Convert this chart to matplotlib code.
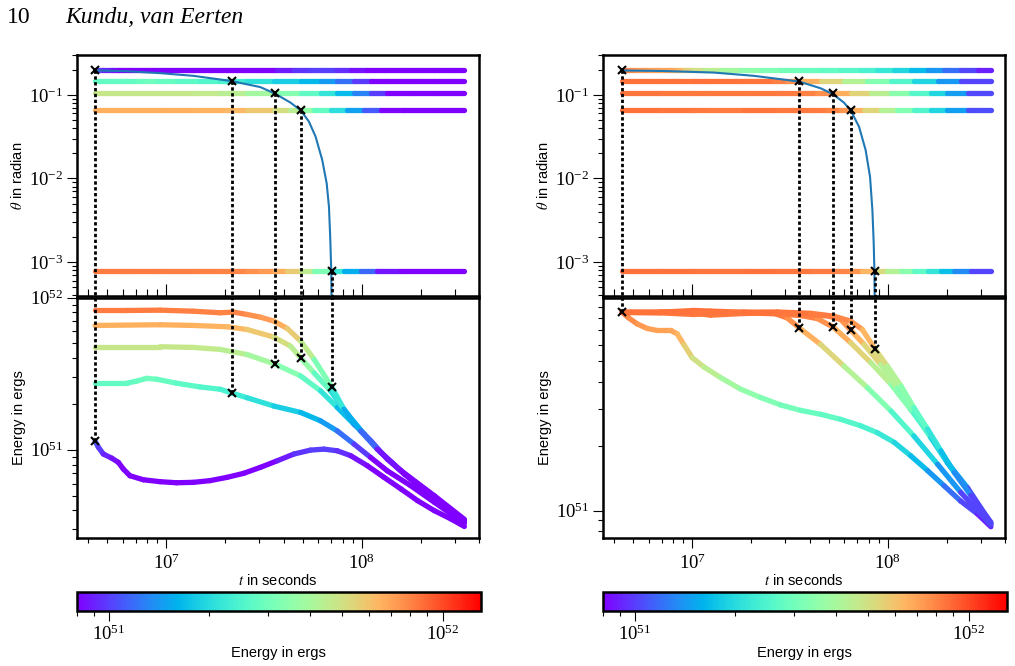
import numpy as np
import matplotlib
matplotlib.use("Agg")
import matplotlib.pyplot as plt
from matplotlib.collections import LineCollection
from matplotlib.colors import LogNorm
from matplotlib.cm import ScalarMappable

plt.rcParams["font.family"] = ["Liberation Serif", "DejaVu Serif"]
plt.rcParams["mathtext.fontset"] = "stix"

# opening angles of the five runs (radian)
thetas = [0.196, 0.146, 0.104, 0.0655, 0.00078]

# ---- left column: energy vs time per run ----
left_t_0 = [4.33e6, 4.50e6, 4.77e6, 5.27e6, 5.70e6, 6.04e6, 6.53e6, 7.65e6, 9.31e6, 1.13e7,
            1.38e7, 1.68e7, 2.05e7, 2.49e7, 3.03e7, 3.70e7, 4.50e7, 5.47e7, 6.41e7, 7.50e7,
            8.79e7, 1.07e8, 1.30e8, 1.59e8, 1.93e8, 2.35e8, 2.86e8, 3.35e8]
left_E_0 = [1.14e51, 1.04e51, 9.38e50, 8.81e50, 8.26e50, 7.47e50, 6.75e50, 6.35e50, 6.17e50, 6.07e50,
            6.11e50, 6.27e50, 6.59e50, 7.00e50, 7.66e50, 8.47e50, 9.38e50, 9.95e50, 1.01e51, 9.85e50,
            9.14e50, 7.85e50, 6.59e50, 5.52e50, 4.63e50, 3.98e50, 3.51e50, 3.13e50]
left_t_1 = [4.33e6, 6.28e6, 7.08e6, 7.96e6, 8.96e6, 1.13e7, 1.49e7, 1.89e7, 2.17e7, 2.59e7,
            3.55e7, 4.87e7, 6.16e7, 7.50e7, 9.14e7, 1.11e8, 1.35e8, 1.78e8, 2.35e8, 3.35e8]
left_E_1 = [2.74e51, 2.74e51, 2.83e51, 2.95e51, 2.91e51, 2.74e51, 2.59e51, 2.50e51, 2.36e51, 2.20e51,
            1.94e51, 1.76e51, 1.55e51, 1.33e51, 1.09e51, 8.91e50, 7.28e50, 5.81e50, 4.52e50, 3.29e50]
left_t_2 = [4.33e6, 9.31e6, 1.38e7, 1.89e7, 2.59e7, 3.62e7, 4.87e7, 6.16e7, 7.50e7, 9.14e7,
            1.11e8, 1.35e8, 1.78e8, 2.35e8, 3.35e8]
left_E_2 = [4.76e51, 4.76e51, 4.71e51, 4.57e51, 4.23e51, 3.65e51, 3.06e51, 2.44e51, 1.90e51, 1.47e51,
            1.15e51, 8.69e50, 6.43e50, 4.75e50, 3.36e50]
left_t_3 = [4.33e6, 9.31e6, 1.38e7, 2.05e7, 2.59e7, 3.55e7, 4.32e7, 4.87e7, 5.70e7, 6.93e7,
            8.44e7, 1.03e8, 1.25e8, 1.65e8, 2.35e8, 3.35e8]
left_E_3 = [6.57e51, 6.64e51, 6.57e51, 6.44e51, 6.18e51, 5.51e51, 4.81e51, 4.03e51, 3.21e51, 2.44e51,
            1.71e51, 1.27e51, 9.62e50, 6.92e50, 4.86e50, 3.42e50]
left_t_4 = [4.33e6, 6.28e6, 9.31e6, 1.38e7, 1.89e7, 2.21e7, 2.59e7, 3.03e7, 3.55e7, 4.16e7,
            4.87e7, 5.70e7, 7.02e7, 8.11e7, 9.88e7, 1.20e8, 1.59e8, 2.35e8, 3.35e8]
left_E_4 = [8.24e51, 8.24e51, 8.28e51, 8.15e51, 7.96e51, 8.04e51, 7.76e51, 7.45e51, 7.02e51, 6.28e51,
            5.19e51, 3.94e51, 2.59e51, 1.85e51, 1.33e51, 1.01e51, 7.28e50, 4.99e50, 3.49e50]

# jet opening angle evolution (left)
left_spread_t = [4.33e6, 6.28e6, 9.31e6, 1.38e7, 2.17e7, 3.03e7, 3.62e7, 4.32e7, 4.87e7, 5.37e7,
                 5.81e7, 6.28e7, 6.62e7, 6.80e7, 6.90e7, 6.99e7, 7.01e7]
left_spread_th = [0.196, 0.192, 0.182, 0.169, 0.146, 0.124, 0.103, 0.0809, 0.0655, 0.048,
                  0.0317, 0.0167, 0.00875, 0.0046, 0.00201, 7.66e-4, 3.2e-4]
left_mark_t = [4.33e6, 2.17e7, 3.62e7, 4.87e7, 7.02e7]
left_mark_E = [1.14e51, 2.36e51, 3.65e51, 4.03e51, 2.59e51]

# ---- right column ----
right_t_0 = [4.38e6, 4.74e6, 5.23e6, 5.89e6, 6.62e6, 7.75e6, 8.38e6, 9.06e6, 1.00e7, 1.15e7,
             1.40e7, 1.77e7, 2.24e7, 2.83e7, 3.59e7, 4.54e7, 5.74e7, 7.27e7, 8.85e7, 1.08e8,
             1.31e8, 1.60e8, 1.94e8, 2.36e8, 2.88e8, 3.37e8]
right_E_0 = [8.51e51, 8.00e51, 7.50e51, 7.14e51, 6.99e51, 6.99e51, 6.74e51, 6.01e51, 5.21e51, 4.71e51,
             4.20e51, 3.71e51, 3.39e51, 3.13e51, 2.95e51, 2.83e51, 2.68e51, 2.50e51, 2.32e51, 2.09e51,
             1.81e51, 1.54e51, 1.31e51, 1.11e51, 9.65e50, 8.41e50]
right_t_1 = [4.38e6, 6.89e6, 1.02e7, 1.24e7, 1.84e7, 2.62e7, 3.06e7, 3.52e7, 4.54e7, 5.97e7,
             7.87e7, 1.04e8, 1.36e8, 1.80e8, 2.36e8, 3.37e8]
right_E_1 = [8.51e51, 8.51e51, 8.67e51, 8.61e51, 8.51e51, 8.41e51, 8.00e51, 7.20e51, 6.01e51, 4.76e51,
             3.77e51, 2.93e51, 2.24e51, 1.65e51, 1.22e51, 8.57e50]
right_t_2 = [4.38e6, 6.89e6, 1.02e7, 1.24e7, 1.84e7, 2.72e7, 3.59e7, 4.37e7, 5.27e7, 6.47e7,
             8.19e7, 1.04e8, 1.31e8, 1.66e8, 2.02e8, 2.56e8, 3.37e8]
right_E_2 = [8.51e51, 8.45e51, 8.30e51, 8.36e51, 8.45e51, 8.36e51, 8.21e51, 7.94e51, 7.24e51, 6.12e51,
             4.94e51, 3.91e51, 2.98e51, 2.24e51, 1.68e51, 1.26e51, 8.67e50]
right_t_3 = [4.38e6, 6.89e6, 1.02e7, 1.24e7, 1.84e7, 2.72e7, 4.04e7, 4.91e7, 5.74e7, 6.47e7,
             7.57e7, 9.20e7, 1.12e8, 1.36e8, 1.66e8, 2.02e8, 2.56e8, 3.37e8]
right_E_3 = [8.51e51, 8.53e51, 8.45e51, 8.24e51, 8.39e51, 8.45e51, 8.30e51, 8.18e51, 7.87e51, 7.01e51,
             6.01e51, 4.84e51, 3.77e51, 2.88e51, 2.20e51, 1.68e51, 1.28e51, 8.75e50]
right_t_4 = [4.38e6, 6.89e6, 1.02e7, 1.24e7, 1.84e7, 2.72e7, 4.04e7, 5.31e7, 6.47e7, 7.42e7,
             8.58e7, 9.95e7, 1.17e8, 1.36e8, 1.60e8, 1.87e8, 2.19e8, 2.66e8, 3.37e8]
right_E_4 = [8.51e51, 8.51e51, 8.53e51, 8.41e51, 8.51e51, 8.53e51, 8.41e51, 8.15e51, 7.73e51, 7.06e51,
             5.74e51, 4.76e51, 3.84e51, 3.04e51, 2.41e51, 1.91e51, 1.51e51, 1.18e51, 8.83e50]

right_spread_t = [4.38e6, 7.16e6, 1.29e7, 2.07e7, 3.52e7, 4.54e7, 5.25e7, 5.97e7, 6.47e7, 7.13e7,
                  7.71e7, 8.12e7, 8.35e7, 8.48e7, 8.55e7, 8.58e7]
right_spread_th = [0.196, 0.193, 0.185, 0.169, 0.1445, 0.120, 0.102, 0.0809, 0.0649, 0.0418,
                   0.0219, 0.0105, 0.0042, 0.00167, 7.8e-4, 3.2e-4]
right_mark_t = [4.38e6, 3.52e7, 5.27e7, 6.47e7, 8.58e7]
right_mark_E = [8.51e51, 7.20e51, 7.24e51, 7.01e51, 5.74e51]

norm = LogNorm(vmin=8.0e50, vmax=1.3e52)
cmap = plt.get_cmap("rainbow")
SANS = "Liberation Sans"
TICK_FS = 13.5


def colored_line(ax, t, y, e, lw=3.8):
    pts = np.column_stack([t, y])
    segs = np.stack([pts[:-1], pts[1:]], axis=1)
    e = np.asarray(e)
    lc = LineCollection(segs, cmap=cmap, norm=norm, linewidths=lw, capstyle="round")
    lc.set_array(np.sqrt(e[:-1] * e[1:]))
    ax.add_collection(lc)


def style_axis(ax):
    for sp in ax.spines.values():
        sp.set_linewidth(1.8)
    ax.tick_params(which="major", direction="out", length=7, width=0.8, labelsize=TICK_FS, pad=3)
    ax.tick_params(which="minor", direction="out", length=3.8, width=0.8)


def draw_column(x0, runs_t, runs_E, spread_t, spread_th, mark_t, mark_E, e_ylim):
    ax_top = fig.add_axes([x0, 0.55511, 0.3965, 0.36231])
    ax_bot = fig.add_axes([x0, 0.19219, 0.3965, 0.36081])
    for ax in (ax_top, ax_bot):
        ax.set_xscale("log")
        ax.set_yscale("log")
        ax.set_xlim(3.5e6, 4.0e8)
        style_axis(ax)
    ax_top.set_ylim(3.9e-4, 0.3)
    ax_bot.set_ylim(*e_ylim)

    for t, e, th in zip(runs_t, runs_E, thetas):
        colored_line(ax_top, t, [th] * len(t), e)
        colored_line(ax_bot, t, e, e)

    ax_top.plot(spread_t, spread_th, color="#1f77b4", lw=1.5, zorder=4)

    for t, th, e in zip(mark_t, thetas, mark_E):
        ax_top.plot([t, t], [th, 1e-9], color="k", lw=2, ls=(0, (1.2, 0.9)), zorder=5)
        ax_bot.plot([t, t], [e, 1e60], color="k", lw=2, ls=(0, (1.2, 0.9)), zorder=5)
    ax_top.plot(mark_t, thetas, "x", color="k", ms=6, mew=1.5, zorder=6)
    ax_bot.plot(mark_t, mark_E, "x", color="k", ms=6, mew=1.5, zorder=6)

    ax_top.tick_params(axis="x", which="both", direction="in", labelbottom=False)
    ax_top.tick_params(axis="x", which="major", length=9)
    ax_top.tick_params(axis="x", which="minor", length=5)
    ax_bot.tick_params(axis="x", which="major", pad=4)

    ax_top.set_ylabel(r"$\theta$ in radian", fontfamily=SANS, fontsize=10.5, labelpad=3)
    ax_bot.set_ylabel("Energy in ergs", fontfamily=SANS, fontsize=10.5, labelpad=3)
    ax_bot.set_xlabel(r"$t$ in seconds", fontfamily=SANS, fontsize=10.5, labelpad=0)

    cax = fig.add_axes([x0 - 0.0003, 0.08258, 0.398, 0.02898])
    cb = fig.colorbar(ScalarMappable(norm=norm, cmap=cmap), cax=cax, orientation="horizontal")
    cb.outline.set_linewidth(1.8)
    cax.tick_params(which="major", direction="out", length=7, width=0.8, labelsize=TICK_FS, pad=3)
    cax.tick_params(which="minor", direction="out", length=3.8, width=0.8)
    cb.set_label("Energy in ergs", fontfamily=SANS, fontsize=10.5, labelpad=1)


fig = plt.figure(figsize=(10.15, 6.66), dpi=100)

draw_column(0.07586,
            [left_t_0, left_t_1, left_t_2, left_t_3, left_t_4],
            [left_E_0, left_E_1, left_E_2, left_E_3, left_E_4],
            left_spread_t, left_spread_th, left_mark_t, left_mark_E, (2.63e50, 1.0e52))
draw_column(0.59409,
            [right_t_0, right_t_1, right_t_2, right_t_3, right_t_4],
            [right_E_0, right_E_1, right_E_2, right_E_3, right_E_4],
            right_spread_t, right_spread_th, right_mark_t, right_mark_E, (7.45e50, 9.95e51))

fig.text(0.0066, 0.965, "10", fontsize=17)
fig.text(0.064, 0.965, "Kundu, van Eerten", fontsize=17, style="italic")

fig.savefig("out.png", dpi=100)
plt.close(fig)
